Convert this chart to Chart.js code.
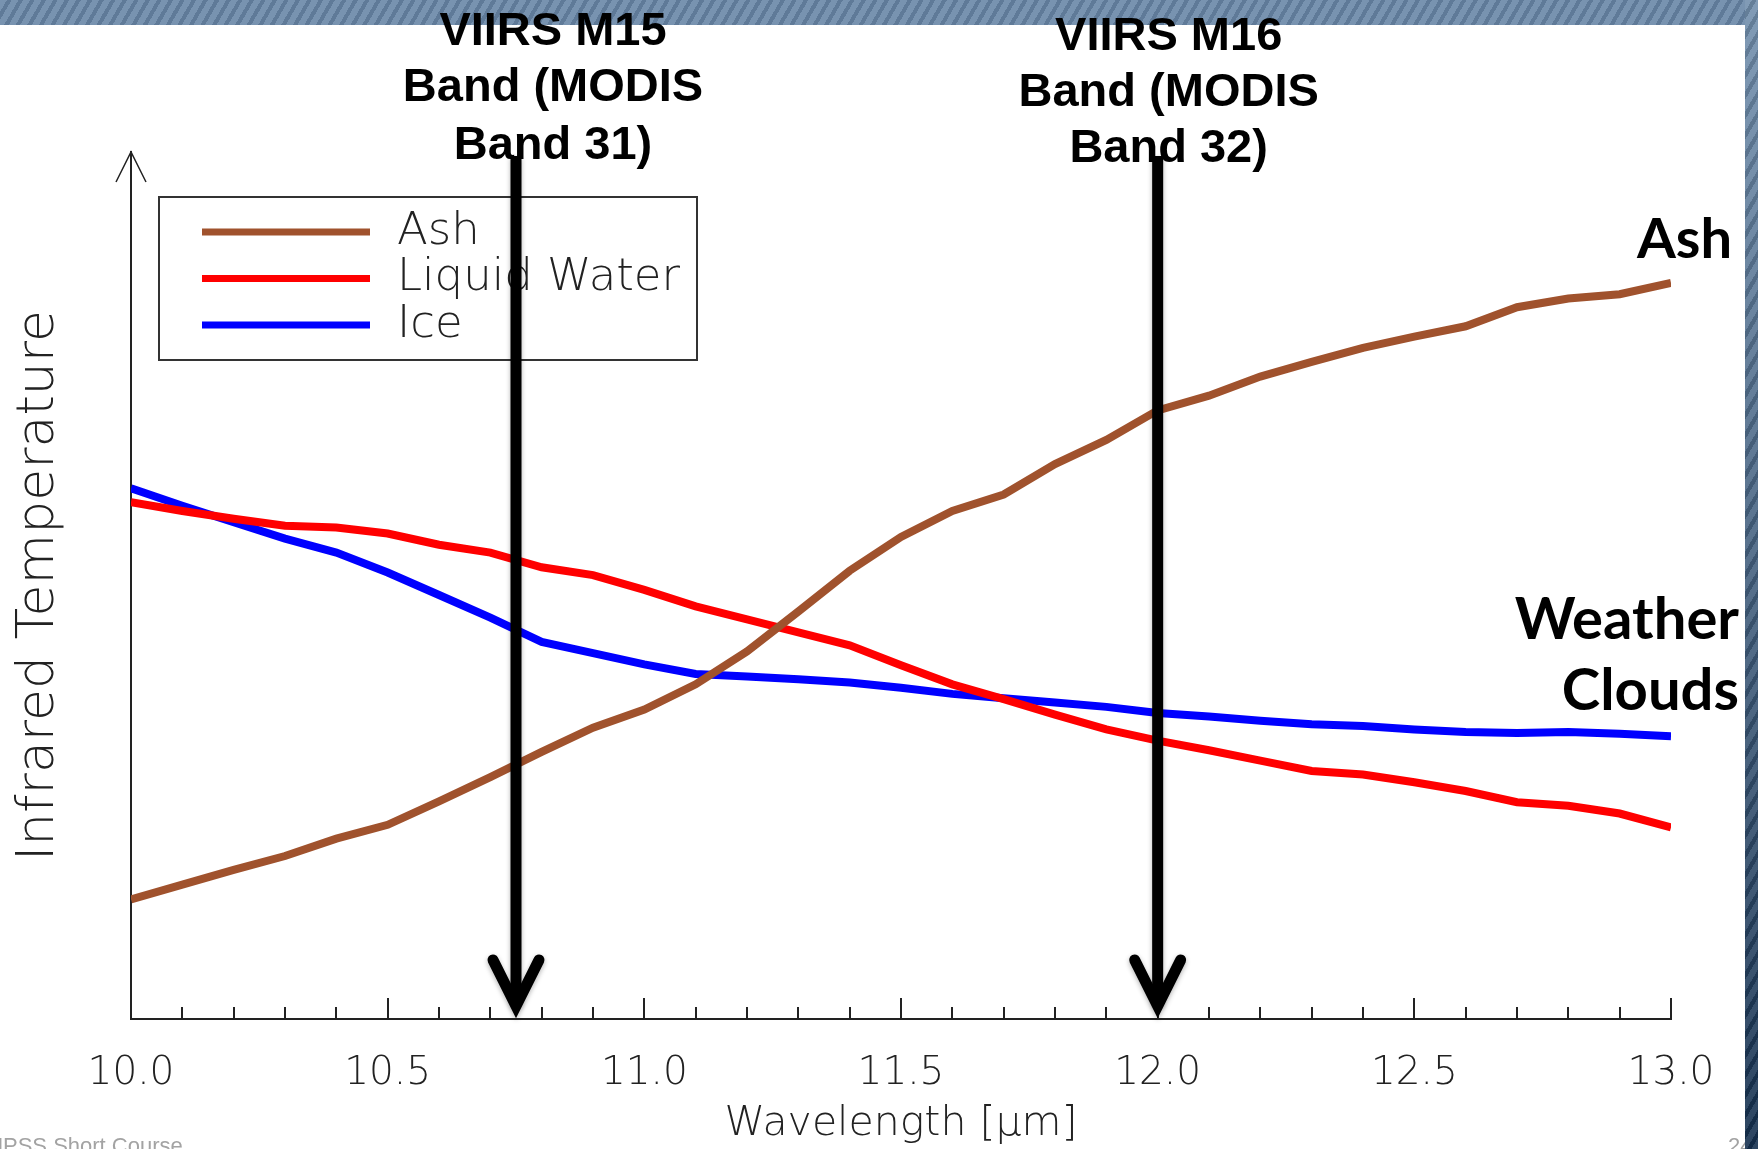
<!DOCTYPE html>
<html>
<head>
<meta charset="utf-8">
<title>Infrared temperature vs wavelength</title>
<script src="https://cdn.jsdelivr.net/npm/chart.js@4.4.0/dist/chart.umd.min.js"></script>
<style>
    html, body { margin: 0; padding: 0; background: #fff; overflow: hidden; }
    #wrap { position: relative; width: 1758px; height: 1149px; }
    #topBar {
        position: absolute; left: 0; top: 0; width: 1758px; height: 25px; z-index: 0;
        background: repeating-linear-gradient(120deg, #7893b0 0 6px, #5f7a98 6px 10px);
    }
    #chartBox { position: absolute; left: 0; top: 0; z-index: 1; }
    #sideBar {
        position: absolute; left: 1745px; top: 0; width: 13px; height: 1149px; z-index: 2;
        background:
            repeating-linear-gradient(120deg, rgba(255,255,255,0.10) 0 6px, rgba(0,0,0,0.12) 6px 10px),
            linear-gradient(#7390ae, #15304f);
    }
</style>
</head>
<body>
<div id="wrap">
    <div id="topBar"></div>
    <canvas id="chartBox" width="1758" height="1149"></canvas>
    <div id="sideBar"></div>
</div>
<script>
// Wavelength in micrometres
const wavelengths = [
    10.0, 10.1, 10.2, 10.3, 10.4, 10.5, 10.6, 10.7, 10.8, 10.9,
    11.0, 11.1, 11.2, 11.3, 11.4, 11.5, 11.6, 11.7, 11.8, 11.9,
    12.0, 12.1, 12.2, 12.3, 12.4, 12.5, 12.6, 12.7, 12.8, 12.9, 13.0
];

// Relative infrared temperature (no units on the axis)
const ashValues = [
    13.8, 15.5, 17.2, 18.8, 20.8, 22.4, 25.1, 27.9, 30.8, 33.6,
    35.7, 38.6, 42.4, 47.0, 51.7, 55.6, 58.6, 60.5, 64.0, 66.8,
    70.2, 71.9, 74.1, 75.8, 77.4, 78.7, 79.9, 82.1, 83.1, 83.6, 84.9
];
const waterValues = [
    59.6, 58.6, 57.7, 56.9, 56.7, 56.0, 54.7, 53.8, 52.1, 51.2,
    49.5, 47.6, 46.1, 44.6, 43.1, 40.8, 38.6, 36.9, 35.1, 33.4,
    32.1, 31.0, 29.8, 28.6, 28.2, 27.3, 26.3, 25.0, 24.6, 23.7, 22.1
];
const iceValues = [
    61.2, 59.2, 57.3, 55.4, 53.8, 51.5, 48.9, 46.3, 43.5, 42.2,
    40.9, 39.8, 39.5, 39.2, 38.8, 38.2, 37.5, 37.0, 36.5, 36.0,
    35.3, 34.9, 34.4, 34.0, 33.8, 33.4, 33.1, 33.0, 33.1, 32.9, 32.6
];

const seriesNames = ['Ash', 'Liquid Water', 'Ice'];
const bandWavelengths = [10.75, 12.0];
const bandLabels = [
    ['VIIRS M15', 'Band (MODIS', 'Band 31)'],
    ['VIIRS M16', 'Band (MODIS', 'Band 32)']
];

const thinFont = "'DejaVu Sans'";

function toPoints(values) {
    return wavelengths.map((w, i) => ({ x: w, y: values[i] }));
}

// Extra drawing: inward ticks, axis arrow, boxed legend, band arrows, labels
const annotations = {
    id: 'annotations',
    beforeDatasetsDraw(chart) {
        const ctx = chart.ctx;
        const area = chart.chartArea;
        const xs = chart.scales.x;
        ctx.save();
        ctx.strokeStyle = '#222';
        ctx.lineWidth = 2;
        xs.ticks.forEach(t => {
            const tenths = Math.round(t.value * 10);
            if (tenths === 100) return;
            const px = Math.round(xs.getPixelForValue(t.value));
            const len = tenths % 5 === 0 ? 21 : 12;
            ctx.beginPath();
            ctx.moveTo(px, area.bottom);
            ctx.lineTo(px, area.bottom - len);
            ctx.stroke();
        });
        // open arrow head on top of the y axis
        ctx.lineWidth = 1.5;
        ctx.beginPath();
        ctx.moveTo(area.left - 15, area.top + 30);
        ctx.lineTo(area.left, area.top);
        ctx.lineTo(area.left + 15, area.top + 30);
        ctx.stroke();
        ctx.restore();
    },
    afterDatasetsDraw(chart) {
        const ctx = chart.ctx;
        const area = chart.chartArea;
        const xs = chart.scales.x;
        const ys = chart.scales.y;
        ctx.save();

        // legend box
        const lx = area.left + 28, ly = area.top + 45;
        ctx.strokeStyle = '#333';
        ctx.lineWidth = 2;
        ctx.strokeRect(lx, ly, 538, 163);
        chart.data.datasets.forEach((ds, i) => {
            const ry = ly + 35 + i * 46.5;
            ctx.strokeStyle = ds.borderColor;
            ctx.lineWidth = 7;
            ctx.beginPath();
            ctx.moveTo(lx + 43, ry);
            ctx.lineTo(lx + 211, ry);
            ctx.stroke();
            ctx.fillStyle = '#222';
            ctx.font = '200 45px ' + thinFont;
            ctx.textBaseline = 'middle';
            ctx.textAlign = 'left';
            ctx.fillText(ds.label, lx + 238, ry);
        });

        // band arrows
        const labelDx = [37, 11];
        const labelY = [[32, 88, 146], [37, 93, 149]];
        bandWavelengths.forEach((w, i) => {
            const px = xs.getPixelForValue(w);
            const vy = area.bottom - 13;
            ctx.save();
            ctx.shadowColor = 'rgba(0,0,0,0.3)';
            ctx.shadowBlur = 5;
            ctx.shadowOffsetY = 2;
            ctx.strokeStyle = '#000';
            ctx.lineWidth = 11;
            ctx.lineCap = 'butt';
            ctx.beginPath();
            ctx.moveTo(px, area.top + 4);
            ctx.lineTo(px, vy);
            ctx.stroke();
            ctx.lineCap = 'round';
            ctx.lineJoin = 'miter';
            ctx.beginPath();
            ctx.moveTo(px - 23, vy - 46);
            ctx.lineTo(px, vy);
            ctx.lineTo(px + 23, vy - 46);
            ctx.stroke();
            ctx.restore();

            ctx.fillStyle = '#000';
            ctx.font = "bold 47px 'Liberation Sans'";
            ctx.textAlign = 'center';
            ctx.textBaseline = 'middle';
            bandLabels[i].forEach((line, j) => {
                ctx.fillText(line, px + labelDx[i], labelY[i][j]);
            });
        });

        // labels at the right end of the curves
        ctx.fillStyle = '#000';
        ctx.textAlign = 'right';
        ctx.textBaseline = 'alphabetic';
        const ashEnd = ys.getPixelForValue(ashValues[ashValues.length - 1]);
        const iceEnd = ys.getPixelForValue(iceValues[iceValues.length - 1]);
        ctx.font = "bold 56px Lato";
        ctx.fillText('Ash', area.right + 61, ashEnd - 25);
        ctx.font = "bold 58px Lato";
        ctx.fillText('Weather', area.right + 68, iceEnd - 97);
        ctx.fillText('Clouds', area.right + 68, iceEnd - 26);

        // slide footer
        ctx.fillStyle = '#a3a3a3';
        ctx.font = "22px 'Liberation Sans'";
        ctx.textAlign = 'left';
        ctx.fillText('JPSS Short Course', -8, 1153);
        ctx.fillText('24', 1728, 1153);
        ctx.restore();
    }
};

let chart;

function initChart() {
    const ctx = document.getElementById('chartBox').getContext('2d');
    const colors = ['#a0522d', '#ff0000', '#0000ff'];
    const values = [ashValues, waterValues, iceValues];

    chart = new Chart(ctx, {
        type: 'line',
        data: {
            datasets: seriesNames.map((name, i) => ({
                label: name,
                data: toPoints(values[i]),
                borderColor: colors[i],
                backgroundColor: colors[i],
                borderWidth: 8,
                tension: 0,
                pointRadius: 0,
                fill: false
            }))
        },
        options: {
            responsive: false,
            animation: false,
            layout: { padding: { left: 0, top: 152, right: 87, bottom: 0 } },
            plugins: {
                legend: { display: false },
                tooltip: { enabled: false }
            },
            scales: {
                x: {
                    type: 'linear',
                    min: 10,
                    max: 13,
                    grid: { display: false, drawTicks: false },
                    border: { display: true, color: '#222', width: 2 },
                    ticks: {
                        stepSize: 0.1,
                        autoSkip: false,
                        maxRotation: 0,
                        minRotation: 0,
                        padding: 31,
                        color: '#222',
                        font: { family: thinFont, size: 39, weight: 200 },
                        callback: function (value) {
                            const tenths = Math.round(value * 10);
                            return tenths % 5 === 0 ? (tenths / 10).toFixed(1) : '';
                        }
                    },
                    title: {
                        display: true,
                        text: 'Wavelength [\u03BCm]',
                        color: '#222',
                        font: { family: thinFont, size: 41, weight: 200 },
                        padding: { top: 0, bottom: 0 }
                    },
                    afterFit: function (scale) { scale.height = 130; }
                },
                y: {
                    min: 0,
                    max: 100,
                    grid: { display: false, drawTicks: false },
                    border: { display: true, color: '#222', width: 2 },
                    ticks: { display: false },
                    title: {
                        display: true,
                        text: 'Infrared Temperature',
                        color: '#222',
                        font: { family: thinFont, size: 52, weight: 200 },
                        padding: { top: 8, bottom: 0 }
                    },
                    afterFit: function (scale) { scale.width = 131; }
                }
            }
        },
        plugins: [annotations]
    });
}

document.addEventListener('DOMContentLoaded', function () {
    initChart();
});
</script>
</body>
</html>
